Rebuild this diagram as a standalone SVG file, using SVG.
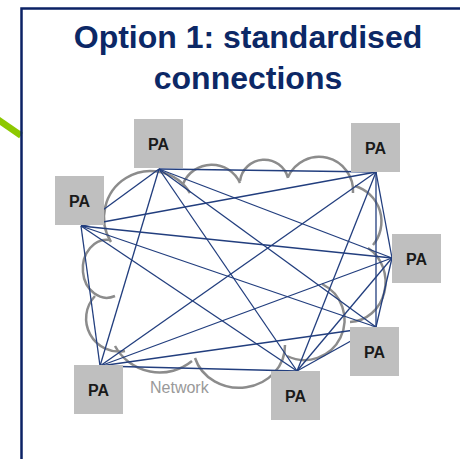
<svg xmlns="http://www.w3.org/2000/svg" width="460" height="459" viewBox="0 0 460 459">
  <defs>
    <style>
      .title { font-family: "Liberation Sans", Arial, sans-serif; font-weight: bold; font-size: 32px; fill: #0C2866; text-anchor: middle; }
      .box { fill: #BFBFBF; }
      .pa { font-family: "Liberation Sans", Arial, sans-serif; font-weight: bold; font-size: 16px; fill: #1A1A1A; text-anchor: middle; }
      .cloud { fill: none; stroke: #8C8C8C; stroke-width: 2.5; }
      .link { stroke: #223E7E; stroke-width: 1.3; fill: none; }
      .net { font-family: "Liberation Sans", Arial, sans-serif; font-size: 16px; fill: #999999; }
    </style>
  </defs>
  <rect width="460" height="459" fill="#FFFFFF"/>
  <line x1="-5" y1="117.5" x2="21" y2="135.5" stroke="#8DC800" stroke-width="6.5"/>
  <rect x="21.5" y="8.5" width="460" height="470" fill="none" stroke="#0B2265" stroke-width="2.5"/>
  <text class="title" x="248" y="47.5">Option 1: standardised</text>
  <text class="title" x="248" y="88.5">connections</text>

  <g id="network-cloud">
    <path class="cloud" d="M111,242 A46,46 0 0 1 190,193"/>
    <path class="cloud" d="M183,184 A31,31 0 0 1 240,183"/>
    <path class="cloud" d="M240,181 A24.5,24.5 0 0 1 288,178"/>
    <path class="cloud" d="M288,177 A34,34 0 0 1 353,193"/>
    <path class="cloud" d="M355,186 A37,37 0 0 1 373,245"/>
    <path class="cloud" d="M368,248 A37,40 0 0 1 350,322"/>
    <path class="cloud" d="M322,284 A40,40 0 1 1 287,356"/>
    <path class="cloud" d="M285,345 A46,42 0 0 1 195,358"/>
    <path class="cloud" d="M115,346 A51,51 0 0 0 192,361"/>
    <path class="cloud" d="M95,296 A33,33 0 0 0 125,351"/>
    <path class="cloud" d="M110,240 A24,29 0 1 0 115,296"/>
    <text class="net" x="150" y="393">Network</text>
  </g>

  <g id="connectors">
    <line class="link" x1="159" y1="169" x2="81" y2="226"/>
    <line class="link" x1="159" y1="169" x2="376" y2="172"/>
    <line class="link" x1="159" y1="169" x2="392" y2="258"/>
    <line class="link" x1="159" y1="169" x2="376" y2="327"/>
    <line class="link" x1="159" y1="169" x2="297" y2="371"/>
    <line class="link" x1="159" y1="169" x2="100" y2="366"/>
    <line class="link" x1="81" y1="226" x2="376" y2="172"/>
    <line class="link" x1="81" y1="226" x2="392" y2="258"/>
    <line class="link" x1="81" y1="226" x2="376" y2="327"/>
    <line class="link" x1="81" y1="226" x2="297" y2="371"/>
    <line class="link" x1="81" y1="226" x2="100" y2="366"/>
    <line class="link" x1="376" y1="172" x2="392" y2="258"/>
    <line class="link" x1="376" y1="172" x2="376" y2="327"/>
    <line class="link" x1="376" y1="172" x2="297" y2="371"/>
    <line class="link" x1="376" y1="172" x2="100" y2="366"/>
    <line class="link" x1="392" y1="258" x2="376" y2="327"/>
    <line class="link" x1="392" y1="258" x2="297" y2="371"/>
    <line class="link" x1="392" y1="258" x2="100" y2="366"/>
    <line class="link" x1="376" y1="327" x2="297" y2="371"/>
    <line class="link" x1="376" y1="327" x2="100" y2="366"/>
    <line class="link" x1="297" y1="371" x2="100" y2="366"/>
  </g>

  <g id="pa-top">
    <rect class="box" x="134" y="119" width="49" height="49"/>
    <text class="pa" x="158.5" y="149.5">PA</text>
  </g>
  <g id="pa-left">
    <rect class="box" x="55" y="176" width="49" height="49"/>
    <text class="pa" x="79.5" y="206.5">PA</text>
  </g>
  <g id="pa-top-right">
    <rect class="box" x="351" y="123" width="49" height="49"/>
    <text class="pa" x="375.5" y="153.5">PA</text>
  </g>
  <g id="pa-right">
    <rect class="box" x="392" y="234" width="49" height="49"/>
    <text class="pa" x="416.5" y="264.5">PA</text>
  </g>
  <g id="pa-bottom-right">
    <rect class="box" x="350" y="327" width="49" height="49"/>
    <text class="pa" x="374.5" y="357.5">PA</text>
  </g>
  <g id="pa-bottom">
    <rect class="box" x="271" y="371" width="49" height="49"/>
    <text class="pa" x="295.5" y="401.5">PA</text>
  </g>
  <g id="pa-bottom-left">
    <rect class="box" x="74" y="365" width="49" height="49"/>
    <text class="pa" x="98.5" y="395.5">PA</text>
  </g>
</svg>
